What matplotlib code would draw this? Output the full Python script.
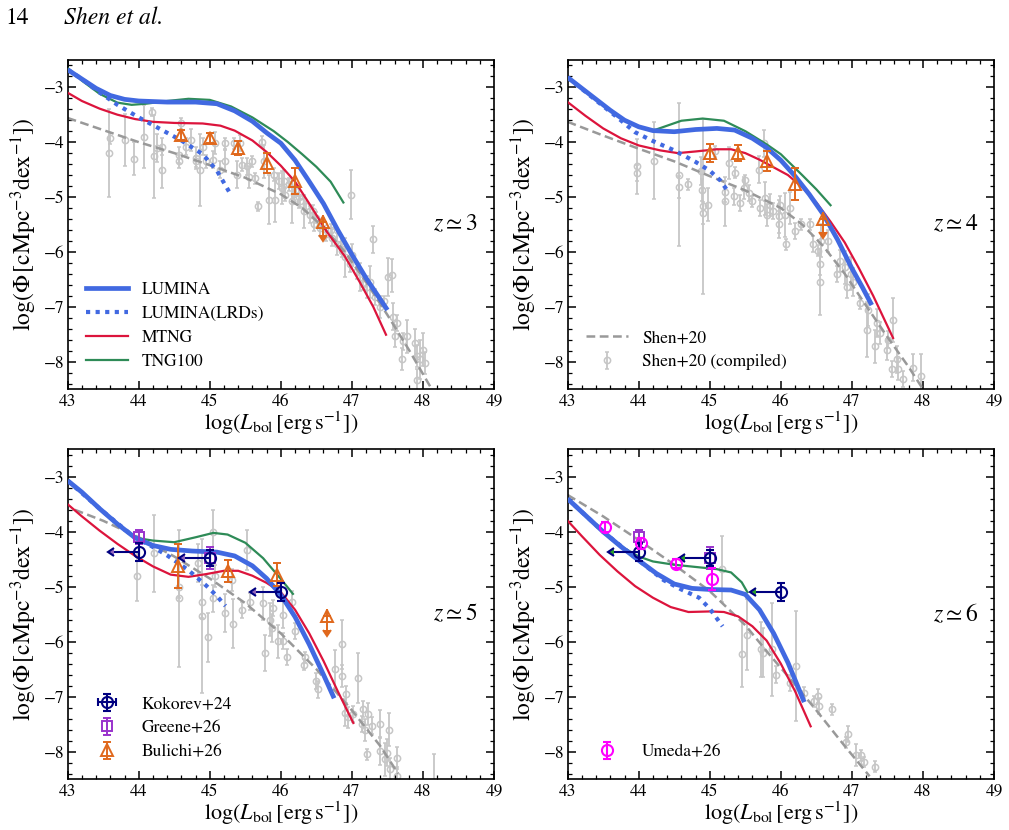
import numpy as np
import matplotlib.pyplot as plt
from matplotlib.ticker import MultipleLocator
from matplotlib.lines import Line2D

plt.rcParams['font.family'] = 'STIXGeneral'
plt.rcParams['mathtext.fontset'] = 'stix'

# =========================
# MODEL CURVES  (log L_bol, log Phi)
# =========================
lumina_z3 = np.array([[43.0, -2.68], [43.2, -2.85], [43.4, -3.02], [43.6, -3.15], [43.8, -3.22],
                      [44.0, -3.25], [44.4, -3.27], [44.8, -3.27], [45.1, -3.30], [45.35, -3.43],
                      [45.6, -3.62], [45.8, -3.83], [46.0, -4.02], [46.2, -4.33], [46.4, -4.72],
                      [46.6, -5.12], [46.8, -5.60], [47.0, -6.05], [47.2, -6.48], [47.5, -7.06]])
lrd_z3 = np.array([[43.0, -2.68], [43.2, -2.85], [43.4, -3.05], [43.7, -3.32], [44.0, -3.55],
                   [44.3, -3.76], [44.6, -3.97], [44.9, -4.22], [45.1, -4.52], [45.27, -4.90]])
mtng_z3 = np.array([[43.0, -3.10], [43.2, -3.25], [43.45, -3.39], [43.7, -3.50], [43.95, -3.58],
                    [44.2, -3.63], [44.5, -3.65], [44.9, -3.66], [45.15, -3.70], [45.35, -3.79],
                    [45.6, -3.97], [45.8, -4.18], [46.0, -4.43], [46.2, -4.72], [46.4, -5.12],
                    [46.64, -5.62], [46.9, -6.08], [47.11, -6.55], [47.3, -7.00], [47.48, -7.51]])
tng_z3 = np.array([[43.0, -2.65], [43.2, -2.88], [43.45, -3.12], [43.7, -3.28], [43.9, -3.32],
                   [44.1, -3.30], [44.4, -3.25], [44.7, -3.21], [45.0, -3.23], [45.3, -3.35],
                   [45.6, -3.55], [45.9, -3.80], [46.1, -4.00], [46.3, -4.22], [46.5, -4.45],
                   [46.7, -4.72], [46.88, -5.10]])
shen_z3 = np.array([[43.0, -3.56], [43.5, -3.78], [44.0, -4.00], [44.5, -4.20], [45.0, -4.42],
                    [45.5, -4.65], [46.0, -4.95], [46.3, -5.20], [46.6, -5.55], [46.9, -6.00],
                    [47.2, -6.55], [47.5, -7.15], [47.8, -7.78], [48.1, -8.45]])

lumina_z4 = np.array([[43.0, -2.82], [43.2, -3.02], [43.4, -3.22], [43.6, -3.42], [43.8, -3.60],
                      [44.0, -3.72], [44.2, -3.79], [44.5, -3.81], [44.8, -3.77], [45.1, -3.75],
                      [45.35, -3.78], [45.6, -3.93], [45.8, -4.10], [46.0, -4.33], [46.2, -4.62],
                      [46.4, -4.95], [46.6, -5.32], [46.8, -5.78], [47.0, -6.30], [47.15, -6.65],
                      [47.28, -6.97]])
lrd_z4 = np.array([[43.0, -2.82], [43.4, -3.24], [43.7, -3.55], [43.95, -3.82], [44.2, -3.98],
                   [44.5, -4.15], [44.8, -4.36], [45.0, -4.52], [45.15, -4.70], [45.24, -4.87]])
mtng_z4 = np.array([[43.0, -3.27], [43.25, -3.52], [43.5, -3.75], [43.75, -3.93], [44.0, -4.06],
                    [44.3, -4.15], [44.55, -4.20], [44.8, -4.17], [45.1, -4.13], [45.3, -4.13],
                    [45.5, -4.20], [45.7, -4.32], [45.9, -4.46], [46.1, -4.60], [46.3, -4.82],
                    [46.5, -5.10], [46.7, -5.45], [46.9, -5.83], [47.1, -6.30], [47.3, -6.80],
                    [47.58, -7.57]])
tng_z4 = np.array([[43.0, -2.82], [43.4, -3.22], [43.8, -3.60], [44.0, -3.72], [44.2, -3.79],
                   [44.4, -3.70], [44.6, -3.61], [44.9, -3.57], [45.2, -3.61], [45.5, -3.80],
                   [45.8, -4.04], [46.0, -4.22], [46.3, -4.60], [46.5, -4.86], [46.7, -5.15]])
shen_z4 = np.array([[43.0, -3.63], [43.5, -3.88], [44.0, -4.12], [44.5, -4.35], [45.0, -4.62],
                    [45.5, -4.88], [46.0, -5.20], [46.3, -5.50], [46.6, -5.90], [46.9, -6.40],
                    [47.2, -6.98], [47.5, -7.55], [47.8, -8.10], [48.0, -8.50]])

lumina_z5 = np.array([[43.0, -3.07], [43.2, -3.28], [43.45, -3.58], [43.7, -3.86], [43.95, -4.11],
                      [44.2, -4.25], [44.45, -4.32], [44.75, -4.35], [45.1, -4.37], [45.35, -4.44],
                      [45.6, -4.62], [45.8, -4.85], [46.0, -5.15], [46.2, -5.55], [46.4, -6.05],
                      [46.6, -6.60], [46.75, -7.03]])
lrd_z5 = np.array([[43.0, -3.07], [43.45, -3.58], [43.95, -4.11], [44.15, -4.24], [44.4, -4.43],
                   [44.7, -4.70], [44.95, -4.98], [45.1, -5.17], [45.22, -5.35]])
mtng_z5 = np.array([[43.0, -3.50], [43.2, -3.72], [43.45, -3.98], [43.7, -4.22], [43.95, -4.44],
                    [44.2, -4.63], [44.45, -4.78], [44.7, -4.82], [44.95, -4.77], [45.2, -4.71],
                    [45.4, -4.71], [45.6, -4.80], [45.8, -4.93], [46.0, -5.10], [46.2, -5.42],
                    [46.4, -5.85], [46.6, -6.35], [46.8, -6.90], [47.02, -7.48]])
tng_z5 = np.array([[43.0, -3.07], [43.45, -3.58], [43.95, -4.11], [44.2, -4.16], [44.5, -4.19],
                   [44.8, -4.10], [45.05, -4.02], [45.25, -4.05], [45.5, -4.20], [45.75, -4.48],
                   [46.0, -4.86], [46.17, -5.13]])
shen_z5 = np.array([[43.1, -3.60], [43.5, -3.80], [44.0, -4.10], [44.5, -4.45], [45.0, -4.85],
                    [45.5, -5.30], [46.0, -5.85], [46.5, -6.50], [47.0, -7.25], [47.4, -7.90],
                    [47.65, -8.40]])

lumina_z6 = np.array([[43.0, -3.40], [43.25, -3.70], [43.5, -4.00], [43.75, -4.27], [44.0, -4.52],
                      [44.25, -4.76], [44.5, -4.95], [44.75, -5.03], [45.0, -5.05], [45.3, -5.06],
                      [45.5, -5.14], [45.7, -5.42], [45.9, -5.85], [46.1, -6.38], [46.33, -7.10]])
lrd_z6 = np.array([[43.0, -3.40], [43.5, -4.00], [44.0, -4.52], [44.35, -4.88], [44.6, -5.05],
                   [44.85, -5.20], [45.0, -5.40], [45.18, -5.72]])
mtng_z6 = np.array([[43.0, -3.80], [43.2, -4.08], [43.45, -4.42], [43.7, -4.72], [43.95, -4.99],
                    [44.2, -5.20], [44.45, -5.37], [44.7, -5.46], [45.0, -5.45], [45.2, -5.46],
                    [45.4, -5.54], [45.6, -5.72], [45.8, -5.98], [46.0, -6.40], [46.2, -6.90],
                    [46.42, -7.54]])
tng_z6 = np.array([[43.0, -3.40], [43.5, -4.00], [43.8, -4.30], [44.0, -4.45], [44.2, -4.54],
                   [44.5, -4.60], [44.8, -4.64], [45.1, -4.68], [45.3, -4.74], [45.45, -4.92],
                   [45.53, -5.10]])
shen_z6 = np.array([[43.0, -3.33], [43.5, -3.72], [44.0, -4.15], [44.5, -4.60], [45.0, -5.08],
                    [45.5, -5.70], [45.85, -6.25], [46.2, -6.78], [46.5, -7.25], [46.9, -7.90],
                    [47.25, -8.45]])

# =========================
# SHEN+20 COMPILED DATA  (log L, log Phi, err)
# =========================
gray_z3 = np.array([
    [43.58, -4.20, 0.80], [43.60, -3.93, 0.10], [43.81, -3.96, 0.48], [43.93, -4.30, 0.30],
    [44.08, -3.90, 0.57], [44.19, -3.45, 0.07], [44.21, -4.26, 0.75], [44.26, -4.11, 0.25],
    [44.33, -4.08, 0.15], [44.33, -4.50, 0.33], [44.56, -4.23, 0.15], [44.56, -4.35, 0.12],
    [44.59, -3.66, 0.10], [44.66, -4.08, 0.15], [44.73, -3.96, 0.20], [44.80, -4.29, 0.20],
    [44.80, -4.35, 0.10], [44.86, -4.51, 0.65], [44.91, -4.08, 0.15], [44.95, -4.35, 0.12],
    [45.05, -4.32, 0.15], [45.08, -4.02, 0.20], [45.15, -4.50, 0.15], [45.22, -4.35, 0.20],
    [45.22, -4.02, 0.10], [45.34, -4.02, 0.10], [45.38, -4.59, 0.25], [45.43, -4.02, 0.15],
    [45.45, -4.41, 0.12], [45.52, -4.44, 0.15], [45.55, -4.63, 0.20], [45.59, -4.35, 0.10],
    [45.64, -4.66, 0.10], [45.68, -5.17, 0.08], [45.73, -3.99, 0.10], [45.76, -4.35, 0.30],
    [45.83, -5.05, 0.45], [45.90, -4.59, 0.12], [45.92, -5.05, 0.40], [45.97, -4.71, 0.15],
    [46.01, -4.83, 0.30], [46.05, -4.70, 0.20], [46.06, -4.96, 0.12], [46.11, -4.77, 0.12],
    [46.15, -5.08, 0.40], [46.18, -4.95, 0.15], [46.22, -4.89, 0.10], [46.25, -5.00, 0.20],
    [46.27, -5.08, 0.10], [46.32, -5.26, 0.30], [46.36, -5.17, 0.10], [46.41, -5.32, 0.15],
    [46.45, -5.25, 0.10], [46.46, -5.50, 0.12], [46.50, -5.38, 0.10], [46.55, -5.56, 0.15],
    [46.60, -5.48, 0.10], [46.64, -5.68, 0.12], [46.70, -5.60, 0.10], [46.72, -5.74, 0.15],
    [46.79, -5.86, 0.20], [46.85, -5.85, 0.15], [46.86, -5.98, 0.12], [46.90, -6.10, 0.35],
    [46.97, -6.22, 0.15], [46.99, -4.96, 0.45], [47.00, -6.05, 0.20], [47.07, -6.34, 0.15],
    [47.11, -6.46, 0.25], [47.16, -6.58, 0.12], [47.21, -6.64, 0.20], [47.25, -6.55, 0.30],
    [47.30, -5.77, 0.25], [47.33, -6.82, 0.15], [47.40, -7.00, 0.20], [47.45, -6.90, 0.10],
    [47.51, -6.46, 0.35], [47.56, -6.43, 0.30], [47.58, -7.18, 0.25], [47.63, -7.30, 0.15],
    [47.61, -7.54, 0.20], [47.72, -7.63, 0.15], [47.77, -7.54, 0.30], [47.70, -7.96, 0.20],
    [47.89, -7.66, 0.25], [47.91, -7.90, 0.20], [48.00, -7.78, 0.30], [47.96, -7.96, 0.35],
    [48.03, -8.02, 0.20], [47.91, -8.33, 0.20]])
gray_z4 = np.array([
    [43.97, -4.44, 0.50], [43.97, -4.56, 0.15], [44.21, -4.34, 0.70], [44.56, -4.59, 1.30],
    [44.56, -4.82, 0.20], [44.69, -4.77, 0.10], [44.87, -4.53, 0.25], [44.89, -4.87, 0.20],
    [44.91, -5.17, 1.60], [44.91, -5.29, 0.20], [44.98, -5.14, 0.30], [45.08, -4.17, 0.10],
    [45.22, -4.90, 0.20], [45.22, -5.08, 0.45], [45.27, -4.38, 0.30], [45.34, -4.99, 0.15],
    [45.36, -4.56, 0.10], [45.43, -5.11, 0.15], [45.48, -4.84, 0.20], [45.50, -4.69, 0.10],
    [45.55, -4.93, 0.15], [45.59, -5.08, 0.10], [45.69, -4.50, 0.25], [45.71, -5.20, 0.15],
    [45.76, -4.02, 0.25], [45.78, -5.02, 0.30], [45.80, -5.32, 0.20], [45.85, -5.14, 0.20],
    [45.89, -5.26, 0.15], [45.97, -5.35, 0.30], [45.97, -5.50, 0.25], [45.99, -5.14, 0.15],
    [46.06, -5.32, 0.40], [46.08, -5.86, 0.10], [46.13, -5.20, 0.30], [46.20, -5.62, 0.15],
    [46.29, -5.50, 0.10], [46.41, -5.50, 0.10], [46.46, -5.86, 0.15], [46.53, -5.98, 0.10],
    [46.55, -6.22, 0.20], [46.55, -6.55, 0.60], [46.57, -5.80, 0.30], [46.67, -5.80, 0.20],
    [46.79, -6.40, 0.15], [46.83, -6.16, 0.20], [46.90, -6.28, 0.30], [46.93, -6.64, 0.20],
    [46.99, -6.40, 0.30], [47.02, -6.55, 0.25], [47.11, -6.94, 0.10], [47.21, -7.42, 0.50],
    [47.23, -7.06, 0.30], [47.32, -7.72, 0.30], [47.35, -7.30, 0.25], [47.40, -7.48, 0.20],
    [47.49, -7.78, 0.20], [47.51, -7.60, 0.15], [47.58, -7.24, 0.40], [47.63, -7.96, 0.25],
    [47.56, -8.14, 0.15], [47.65, -8.14, 0.20], [47.72, -8.32, 0.15], [47.86, -8.11, 0.25],
    [47.98, -8.26, 0.40]])
gray_z5 = np.array([
    [43.97, -4.81, 0.45], [44.21, -4.39, 0.70], [44.56, -5.21, 1.25], [44.56, -5.00, 0.20],
    [44.84, -4.57, 0.35], [44.89, -5.27, 0.30], [44.89, -5.54, 1.40], [44.97, -5.92, 0.45],
    [45.05, -4.00, 0.40], [45.05, -5.21, 0.25], [45.07, -4.81, 0.20], [45.21, -5.48, 0.35],
    [45.33, -5.67, 0.45], [45.31, -4.87, 0.20], [45.45, -5.42, 0.15], [45.52, -4.33, 0.36],
    [45.56, -5.27, 0.15], [45.78, -6.20, 0.33], [45.75, -5.30, 0.30], [45.85, -5.60, 0.30],
    [45.87, -5.75, 0.25], [45.89, -5.39, 0.15], [45.96, -5.99, 0.30], [46.03, -5.99, 0.15],
    [46.03, -5.51, 0.25], [46.08, -6.28, 0.15], [46.15, -5.27, 0.20], [46.20, -5.81, 0.15],
    [46.32, -6.42, 0.10], [46.34, -6.28, 0.10], [46.50, -6.72, 0.15], [46.52, -6.87, 0.15],
    [46.76, -6.50, 0.35], [46.86, -6.05, 0.45], [46.86, -6.63, 0.20], [46.92, -6.96, 0.15],
    [46.90, -7.29, 0.25], [46.95, -7.38, 0.20], [47.02, -7.32, 0.15], [47.09, -6.66, 0.45],
    [47.14, -7.50, 0.15], [47.16, -7.23, 0.15], [47.18, -7.60, 0.20], [47.21, -8.05, 0.10],
    [47.23, -7.32, 0.20], [47.28, -7.53, 0.15], [47.39, -7.99, 0.25], [47.40, -7.50, 0.25],
    [47.47, -8.14, 0.30], [47.49, -8.02, 0.25], [47.52, -7.60, 0.30], [47.54, -8.32, 0.20],
    [47.63, -8.11, 0.20], [47.63, -8.44, 0.15], [48.15, -8.65, 0.60]])
gray_z6 = np.array([
    [45.17, -4.67, 0.60], [45.45, -6.23, 0.60], [45.52, -5.87, 0.65], [45.72, -6.14, 0.50],
    [45.75, -6.20, 0.45], [45.88, -6.14, 0.85], [45.93, -6.60, 0.15], [46.13, -6.75, 0.15],
    [46.21, -6.45, 1.00], [46.33, -6.93, 0.10], [46.47, -7.08, 0.10], [46.52, -6.99, 0.12],
    [46.54, -7.17, 0.15], [46.72, -7.23, 0.10], [46.92, -7.83, 0.10], [46.95, -7.68, 0.15],
    [47.06, -8.07, 0.20], [47.13, -8.07, 0.10], [47.17, -8.19, 0.10], [47.32, -8.28, 0.10]])

# =========================
# JWST / LRD OBSERVATIONS
# =========================
bul_z3 = np.array([[44.6, -3.87, 0.10], [45.0, -3.93, 0.09], [45.4, -4.11, 0.13],
                   [45.8, -4.38, 0.18], [46.2, -4.71, 0.23]])
bul_z4 = np.array([[45.0, -4.20, 0.17], [45.4, -4.20, 0.15], [45.8, -4.35, 0.18],
                   [46.2, -4.77, 0.29]])
bul_z5 = np.array([[44.55, -4.63, 0.40], [45.25, -4.72, 0.20], [45.95, -4.78, 0.21]])
bul_lim = {3: (46.6, -5.46), 4: (46.6, -5.40), 5: (46.65, -5.54)}

kok_L = [44.0, 45.0, 46.0]
kok_phi = [-4.37, -4.48, -5.10]
kok_err = [0.17, 0.15, 0.16]

greene_L = [44.0, 45.0]
greene_phi = [-4.10, -4.48]
greene_err = [0.13, 0.20]

umeda_L = [43.52, 44.03, 44.53, 45.03]
umeda_phi = [-3.91, -4.21, -4.58, -4.86]
umeda_err = [0.09, 0.10, 0.08, 0.20]

# =========================
# STYLE
# =========================
C_LUM = '#4169e1'
C_MTNG = '#dc143c'
C_TNG = '#2e8b57'
C_SHEN = '#999999'
C_GRAY = '#c6c6c6'
C_ORANGE = '#e0681c'
C_NAVY = '#000080'
C_PURPLE = '#9932cc'
C_MAG = '#ff00ff'


def draw_models(ax, gray, shen, mtng, tng, lumina, lrd):
    eb = ax.errorbar(gray[:, 0], gray[:, 1], yerr=gray[:, 2], fmt='o', ms=4.5, mfc='none',
                     mec=C_GRAY, ecolor=C_GRAY, mew=1.1, elinewidth=1.3, capsize=1.5, zorder=1)
    h_shen, = ax.plot(shen[:, 0], shen[:, 1], color=C_SHEN, lw=1.8, ls=(0, (3.5, 1.8)), zorder=2)
    h_mtng, = ax.plot(mtng[:, 0], mtng[:, 1], color=C_MTNG, lw=1.6, zorder=3)
    h_tng, = ax.plot(tng[:, 0], tng[:, 1], color=C_TNG, lw=1.6, zorder=3)
    h_lrd, = ax.plot(lrd[:, 0], lrd[:, 1], color=C_LUM, lw=3, ls=(0, (1, 1.3)), zorder=3.5)
    h_lum, = ax.plot(lumina[:, 0], lumina[:, 1], color=C_LUM, lw=3.4, zorder=4,
                     solid_capstyle='butt')
    return eb, h_shen, h_mtng, h_tng, h_lrd, h_lum


def draw_bulichi(ax, pts, lim):
    h = ax.errorbar(pts[:, 0], pts[:, 1], yerr=pts[:, 2], fmt='^', ms=8, mfc='none', mec=C_ORANGE,
                    ecolor=C_ORANGE, mew=1.4, elinewidth=1.4, capsize=3, zorder=6)
    ul = ax.errorbar([lim[0]], [lim[1]], yerr=0.24, uplims=True, fmt='^', ms=8, mfc='none',
                     mec=C_ORANGE, ecolor=C_ORANGE, mew=1.4, elinewidth=1.4, capsize=3, zorder=6)
    for cl in ul[1]:
        cl.set_color(C_ORANGE)
        cl.set_markerfacecolor(C_ORANGE)
        cl.set_markeredgecolor(C_ORANGE)
    ax.errorbar([lim[0]], [lim[1] + 0.13], yerr=[[0.13], [0]], fmt='none', ecolor=C_ORANGE,
                elinewidth=1.4, capsize=0, zorder=6)
    return h


def draw_kokorev(ax):
    ax.errorbar(kok_L, kok_phi, yerr=kok_err, xerr=0.35, xuplims=True, fmt='o', ms=8,
                mfc='none', mec=C_NAVY, ecolor=C_NAVY, mew=1.5, elinewidth=1.5, capsize=3, zorder=7)
    return ax.errorbar([np.nan], [np.nan], yerr=0.1, xerr=0.1, fmt='o', ms=8, mfc='none',
                       mec=C_NAVY, ecolor=C_NAVY, mew=1.5, elinewidth=1.5, capsize=3)


def draw_greene(ax):
    return ax.errorbar(greene_L, greene_phi, yerr=greene_err, fmt='s', ms=7, mfc='none',
                       mec=C_PURPLE, ecolor=C_PURPLE, mew=1.4, elinewidth=1.4, capsize=3, zorder=6)


def style_axis(ax, ztxt):
    ax.set_xlim(43, 49)
    ax.set_ylim(-8.5, -2.5)
    ax.xaxis.set_major_locator(MultipleLocator(1))
    ax.xaxis.set_minor_locator(MultipleLocator(0.2))
    ax.yaxis.set_major_locator(MultipleLocator(1))
    ax.yaxis.set_minor_locator(MultipleLocator(0.2))
    ax.tick_params(which='both', direction='in', top=True, right=True, labelsize=12.5)
    ax.tick_params(axis='y', pad=2.5)
    ax.tick_params(which='major', length=6, width=1.1)
    ax.tick_params(which='minor', length=3, width=0.9)
    for s in ax.spines.values():
        s.set_linewidth(1.2)
    ax.set_xlabel(r'$\log(L_{\rm bol}\,[{\rm erg\,s^{-1}}])$', fontsize=16, labelpad=0)
    ax.set_ylabel(r'$\log(\Phi\,[{\rm cMpc^{-3}dex^{-1}}])$', fontsize=17, labelpad=3)
    ax.text(0.91, 0.5, ztxt, transform=ax.transAxes, ha='center', va='center', fontsize=17)


fig = plt.figure(figsize=(10.09, 8.30), dpi=100)
ax1 = fig.add_axes([0.0671, 0.5313, 0.4225, 0.3966])
ax2 = fig.add_axes([0.5626, 0.5313, 0.4225, 0.3966])
ax3 = fig.add_axes([0.0671, 0.0614, 0.4225, 0.3972])
ax4 = fig.add_axes([0.5626, 0.0614, 0.4225, 0.3972])

leg_kw = dict(loc='lower left', frameon=False, fontsize=12.5, handlelength=2.4,
              handletextpad=0.8, labelspacing=0.45, borderaxespad=0.3)

# --- z ~ 3
eb, h_shen, h_mtng, h_tng, h_lrd, h_lum = draw_models(ax1, gray_z3, shen_z3, mtng_z3, tng_z3,
                                                      lumina_z3, lrd_z3)
draw_bulichi(ax1, bul_z3, bul_lim[3])
style_axis(ax1, r'$z\simeq 3$')
lum_h = Line2D([], [], color=C_LUM, lw=3.4)
lrd_h = Line2D([], [], color=C_LUM, lw=3, ls=(0, (1, 1.3)))
ax1.legend([lum_h, lrd_h, h_mtng, h_tng], ['LUMINA', 'LUMINA(LRDs)', 'MTNG', 'TNG100'],
           bbox_to_anchor=(0.015, 0.02), **leg_kw)

# --- z ~ 4
eb, h_shen, *_ = draw_models(ax2, gray_z4, shen_z4, mtng_z4, tng_z4, lumina_z4, lrd_z4)
draw_bulichi(ax2, bul_z4, bul_lim[4])
style_axis(ax2, r'$z\simeq 4$')
ax2.legend([h_shen, eb], ['Shen+20', 'Shen+20 (compiled)'], bbox_to_anchor=(0.015, 0.02), **leg_kw)

# --- z ~ 5
draw_models(ax3, gray_z5, shen_z5, mtng_z5, tng_z5, lumina_z5, lrd_z5)
h_bul = draw_bulichi(ax3, bul_z5, bul_lim[5])
h_gre = draw_greene(ax3)
h_kok = draw_kokorev(ax3)
style_axis(ax3, r'$z\simeq 5$')
ax3.legend([h_kok, h_gre, h_bul], ['Kokorev+24', 'Greene+26', 'Bulichi+26'],
           bbox_to_anchor=(0.015, 0.02), **leg_kw)

# --- z ~ 6
draw_models(ax4, gray_z6, shen_z6, mtng_z6, tng_z6, lumina_z6, lrd_z6)
draw_greene(ax4)
draw_kokorev(ax4)
h_ume = ax4.errorbar(umeda_L, umeda_phi, yerr=umeda_err, fmt='o', ms=8, mfc='none', mec=C_MAG,
                     ecolor=C_MAG, mew=1.5, elinewidth=1.5, capsize=3, zorder=8)
style_axis(ax4, r'$z\simeq 6$')
ax4.legend([h_ume], ['Umeda+26'], bbox_to_anchor=(0.015, 0.02), **leg_kw)

fig.text(5 / 1009, 1 - 24 / 830, '14', fontsize=17, va='baseline')
fig.text(64 / 1009, 1 - 24 / 830, 'Shen et al.', fontsize=17, style='italic', va='baseline')

fig.savefig('out.png', dpi=100)
